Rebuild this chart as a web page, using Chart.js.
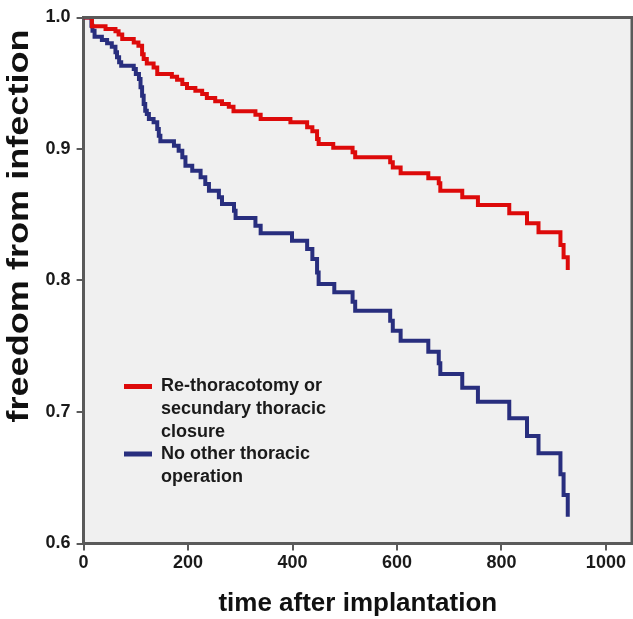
<!DOCTYPE html>
<html>
<head>
<meta charset="utf-8">
<script src="https://cdn.jsdelivr.net/npm/chart.js@4.4.0/dist/chart.umd.min.js"></script>
<style>
  html, body { margin: 0; padding: 0; background: #fff; }
  #wrap { position: relative; width: 633px; height: 619px; }
</style>
</head>
<body>
<div id="wrap"><canvas id="kmChart" width="633" height="619"></canvas></div>
<script>
// === DATA (Kaplan-Meier steps: time of event, survival after event) ===
const rethoTimes = [0, 16, 42, 61, 67, 74, 96, 105, 112, 115, 121, 134, 141, 169, 179, 189, 198, 214, 227, 236, 252, 265, 278, 287, 329, 339, 396, 428, 438, 447, 450, 478, 515, 520, 587, 592, 607, 660, 680, 683, 725, 755, 815, 849, 871, 913, 919, 927];
const rethoSurv  = [1.0, 0.9933, 0.9913, 0.9895, 0.987, 0.9836, 0.981, 0.9786, 0.972, 0.9684, 0.965, 0.962, 0.957, 0.955, 0.9527, 0.9494, 0.9464, 0.9443, 0.9418, 0.9388, 0.9363, 0.9342, 0.9322, 0.9287, 0.9261, 0.9228, 0.9203, 0.9165, 0.9135, 0.9076, 0.9038, 0.901, 0.8975, 0.8937, 0.8899, 0.886, 0.8815, 0.8777, 0.874, 0.8683, 0.8633, 0.8574, 0.8511, 0.8435, 0.8367, 0.827, 0.8176, 0.808];

const otherTimes = [0, 15, 17, 21, 35, 45, 54, 61, 64, 68, 72, 96, 100, 106, 109, 112, 115, 118, 121, 125, 134, 141, 144, 147, 173, 182, 189, 195, 208, 224, 233, 240, 259, 265, 288, 291, 329, 339, 399, 428, 438, 447, 450, 480, 515, 520, 587, 592, 607, 660, 680, 683, 725, 755, 815, 849, 871, 913, 919, 927];
const otherSurv  = [1.0, 0.9938, 0.99, 0.9854, 0.9829, 0.9804, 0.9778, 0.9735, 0.9697, 0.9659, 0.9634, 0.9608, 0.957, 0.9532, 0.9469, 0.9405, 0.9342, 0.9291, 0.9266, 0.9228, 0.9203, 0.9152, 0.9101, 0.9059, 0.9025, 0.8987, 0.8937, 0.8873, 0.8835, 0.8785, 0.8734, 0.8683, 0.8633, 0.8582, 0.8531, 0.8475, 0.8417, 0.8359, 0.8303, 0.824, 0.8163, 0.806, 0.7973, 0.791, 0.7839, 0.777, 0.7694, 0.7618, 0.7542, 0.7459, 0.737, 0.7289, 0.7185, 0.7078, 0.6952, 0.6817, 0.6686, 0.6526, 0.6369, 0.6204];

const xTicks = [0, 200, 400, 600, 800, 1000];
const yTicks = [0.6, 0.7, 0.8, 0.9, 1.0];

const yTitle = "freedom from infection";
const xTitle = "time after implantation";
const legendLines = [
  ["Re-thoracotomy or", "secundary thoracic", "closure"],
  ["No other thoracic", "operation"]
];

const RED = "#dd0a0a";
const BLUE = "#282e7e";
const AXIS = "#5a5a5a";
const FONT = "'Liberation Sans', Arial, sans-serif";

function toPoints(ts, ss) {
  return ts.map((t, i) => ({ x: t, y: ss[i] }));
}

// === PLUGINS ===
const plotBg = {
  id: "plotBg",
  beforeDraw(chart) {
    const { ctx, chartArea: a } = chart;
    ctx.save();
    ctx.fillStyle = "#f0f0f0";
    ctx.fillRect(a.left, a.top, a.right - a.left, a.bottom - a.top);
    ctx.restore();
  },
  afterDraw(chart) {
    const { ctx, chartArea: a } = chart;
    ctx.save();
    ctx.strokeStyle = AXIS;
    ctx.lineWidth = 3;
    ctx.beginPath();
    ctx.moveTo(a.left, a.top);
    ctx.lineTo(a.right, a.top);
    ctx.lineTo(a.right, a.bottom);
    ctx.stroke();
    // y title: sits higher than the axis centre and is stretched in the original
    ctx.translate(20, 226);
    ctx.rotate(-Math.PI / 2);
    ctx.scale(1.245, 1);
    ctx.font = "bold 29px " + FONT;
    ctx.fillStyle = "#111";
    ctx.textAlign = "center";
    ctx.textBaseline = "middle";
    ctx.fillText(yTitle, 0, 0);
    ctx.restore();
  }
};

const kmLegend = {
  id: "kmLegend",
  afterDatasetsDraw(chart) {
    const ctx = chart.ctx;
    const colors = [RED, BLUE];
    const starts = [386.5, 454];
    ctx.save();
    ctx.font = "bold 18px " + FONT;
    ctx.fillStyle = "#1a1a1a";
    ctx.textBaseline = "middle";
    legendLines.forEach((lines, i) => {
      ctx.strokeStyle = colors[i];
      ctx.lineWidth = 5;
      ctx.beginPath();
      ctx.moveTo(124, starts[i]);
      ctx.lineTo(152, starts[i]);
      ctx.stroke();
      lines.forEach((txt, j) => {
        ctx.fillText(txt, 161, starts[i] + j * 22.6);
      });
    });
    ctx.restore();
  }
};

// === CHART ===
new Chart(document.getElementById("kmChart"), {
  type: "line",
  data: {
    datasets: [
      { label: legendLines[0].join(" "), data: toPoints(rethoTimes, rethoSurv), borderColor: RED, borderWidth: 4, stepped: "before", pointRadius: 0, fill: false },
      { label: legendLines[1].join(" "), data: toPoints(otherTimes, otherSurv), borderColor: BLUE, borderWidth: 4, stepped: "before", pointRadius: 0, fill: false }
    ]
  },
  options: {
    responsive: false,
    animation: false,
    layout: { padding: { top: 17.5, right: 1, left: 0, bottom: 0 } },
    plugins: { legend: { display: false }, tooltip: { enabled: false } },
    scales: {
      x: {
        type: "linear",
        min: 0,
        max: 1050,
        afterBuildTicks: s => { s.ticks = xTicks.map(v => ({ value: v })); },
        afterFit: s => { s.height = 75.5; },
        ticks: { color: "#1a1a1a", font: { family: FONT, size: 18, weight: "bold" }, padding: 2, maxRotation: 0, callback: v => String(v) },
        grid: { drawOnChartArea: false, drawTicks: true, tickLength: 7, color: AXIS, lineWidth: 2 },
        border: { display: true, color: AXIS, width: 3 },
        title: { display: true, text: xTitle, color: "#111", font: { family: FONT, size: 26, weight: "bold" }, padding: { top: 0, bottom: 0 } }
      },
      y: {
        min: 0.6,
        max: 1.0,
        afterBuildTicks: s => { s.ticks = yTicks.map(v => ({ value: v })); },
        afterFit: s => { s.width = 83.6; },
        ticks: { color: "#1a1a1a", font: { family: FONT, size: 18, weight: "bold" }, padding: 6, callback: v => v.toFixed(1) },
        grid: { drawOnChartArea: false, drawTicks: true, tickLength: 7, color: AXIS, lineWidth: 2 },
        border: { display: true, color: AXIS, width: 3 }
      }
    }
  },
  plugins: [plotBg, kmLegend]
});
</script>
</body>
</html>
